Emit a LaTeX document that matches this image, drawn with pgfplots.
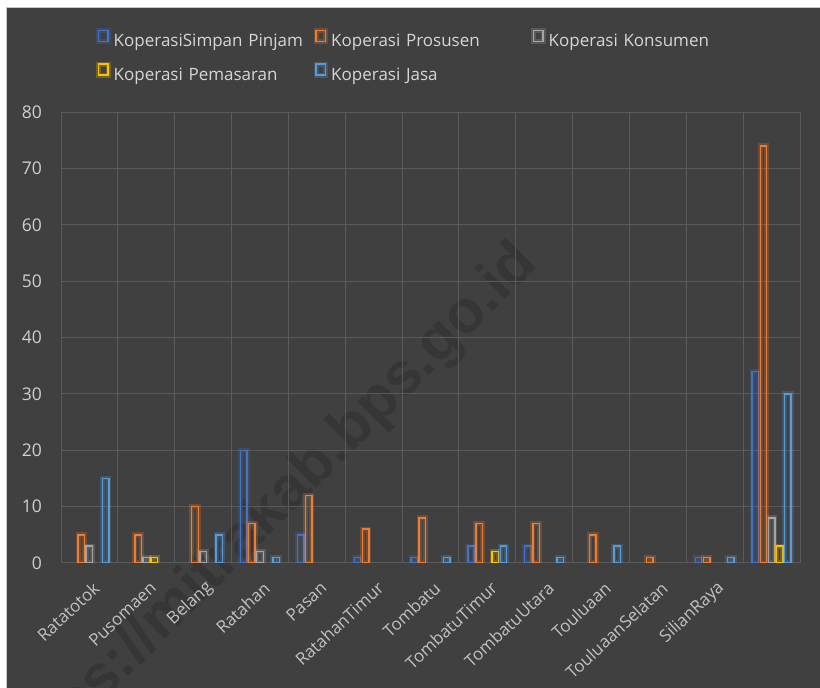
\documentclass[border=0pt]{standalone}
\usepackage{pgfplots}
\pgfplotsset{compat=1.18}
\usepackage{pgfplotstable}
\usepackage{fontspec}
\setmainfont{Open Sans}
\newfontfamily\wmfont{Liberation Sans}

\definecolor{bg}{HTML}{404040}
\definecolor{frame}{HTML}{C8C8C8}
\definecolor{gridc}{HTML}{5A5A5A}
\definecolor{ticktxt}{HTML}{CFCFCF}
\definecolor{cattxt}{HTML}{C2C2C2}
\definecolor{legtxt}{HTML}{D6D6D6}
\definecolor{wm}{HTML}{363636}
\definecolor{csp}{HTML}{4472C4}
\definecolor{cpros}{HTML}{ED7D31}
\definecolor{ckons}{HTML}{A5A5A5}
\definecolor{cpem}{HTML}{FFC000}
\definecolor{cjasa}{HTML}{5B9BD5}

% jumlah koperasi per kecamatan (kolom terakhir: total)
\pgfplotstableread{
idx sp pros kons pem jasa
0   0  5    3    0   15
1   0  5    1    1   0
2   0  10   2    0   5
3   20 7    2    0   1
4   5  12   0    0   0
5   1  6    0    0   0
6   1  8    0    0   1
7   3  7    0    2   3
8   3  7    0    0   1
9   0  5    0    0   3
10  0  1    0    0   0
11  1  1    0    0   1
12  34 74   8    3   30
}\koperasi

\pgfplotsset{
  kop/.style={draw=#1, fill=none, line width=1.4pt,
    preaction={draw=#1, draw opacity=0.25, line width=5pt},
    legend image code/.code={\draw[draw=#1, line width=1.5pt] (0.75pt,0.75pt) rectangle (10.25pt,11.75pt);}},
}

\begin{document}
\begin{tikzpicture}
\fill[white] (0pt,0pt) rectangle (820pt,688pt);
\fill[bg] (6pt,0pt) rectangle (820pt,680pt);
\draw[frame, line width=1pt] (6pt,-2pt) -- (6pt,680pt) -- (822pt,680pt);

\begin{scope}
\clip (6pt,0pt) rectangle (820pt,680pt);
\node[rotate=45, anchor=base east, text=wm, inner sep=0pt,
  font=\wmfont\bfseries\fontsize{60}{66}\selectfont] at (540pt,423pt) {https://mitrakab.bps.go.id};
\end{scope}

\begin{axis}[
  at={(61pt,125pt)}, anchor=south west,
  scale only axis, width=739pt, height=451pt,
  xmin=-0.5, xmax=12.5, ymin=0, ymax=80,
  ytick={0,10,...,80},
  xtick={0,...,12},
  xticklabels={Ratatotok,Pusomaen,Belang,Ratahan,Pasan,RatahanTimur,Tombatu,TombatuTimur,TombatuUtara,Touluaan,TouluaanSelatan,SilianRaya,{}},
  minor xtick={-0.5,0.5,...,12.5},
  ymajorgrids, xminorgrids,
  major grid style={gridc, line width=1pt},
  minor grid style={gridc, line width=1pt},
  axis line style={draw=none},
  major tick style={draw=none}, minor tick style={draw=none},
  /pgf/number format/assume math mode=true,
  yticklabel style={font=\fontsize{17.5}{20}\selectfont, text=ticktxt, anchor=east, inner sep=0pt, xshift=-19pt},
  xticklabel style={font=\fontsize{17}{19}\selectfont, text=cattxt, inner sep=0pt,
    xshift=7pt, yshift=-18pt, rotate=43, anchor=east},
  ybar=1.6pt, bar width=6.5pt,
  restrict y to domain=0.5:100,
  legend columns=3,
  legend style={at={(axis description cs:0.0477,1.1863)}, anchor=north west,
    draw=none, fill=none, inner sep=0pt, outer sep=0pt,
    font=\fontsize{17}{20}\selectfont, text=legtxt,
    row sep=11pt,
    nodes={inner sep=0pt, text width=200pt, text height=13pt, text depth=4pt},
    /tikz/every odd column/.append style={column sep=3pt},
    /tikz/every even column/.append style={column sep=0pt}},
]
\addplot[kop=csp]   table[x=idx, y=sp]   {\koperasi};
\addlegendentry{KoperasiSimpan~Pinjam}
\addplot[kop=cpros] table[x=idx, y=pros] {\koperasi};
\addlegendentry{Koperasi~Prosusen}
\addplot[kop=ckons] table[x=idx, y=kons] {\koperasi};
\addlegendentry{Koperasi~Konsumen}
\addplot[kop=cpem]  table[x=idx, y=pem]  {\koperasi};
\addlegendentry{Koperasi~Pemasaran}
\addplot[kop=cjasa] table[x=idx, y=jasa] {\koperasi};
\addlegendentry{Koperasi~Jasa}
\end{axis}

\pgfresetboundingbox
\useasboundingbox (0pt,0pt) rectangle (820pt,688pt);
\end{tikzpicture}
\end{document}
